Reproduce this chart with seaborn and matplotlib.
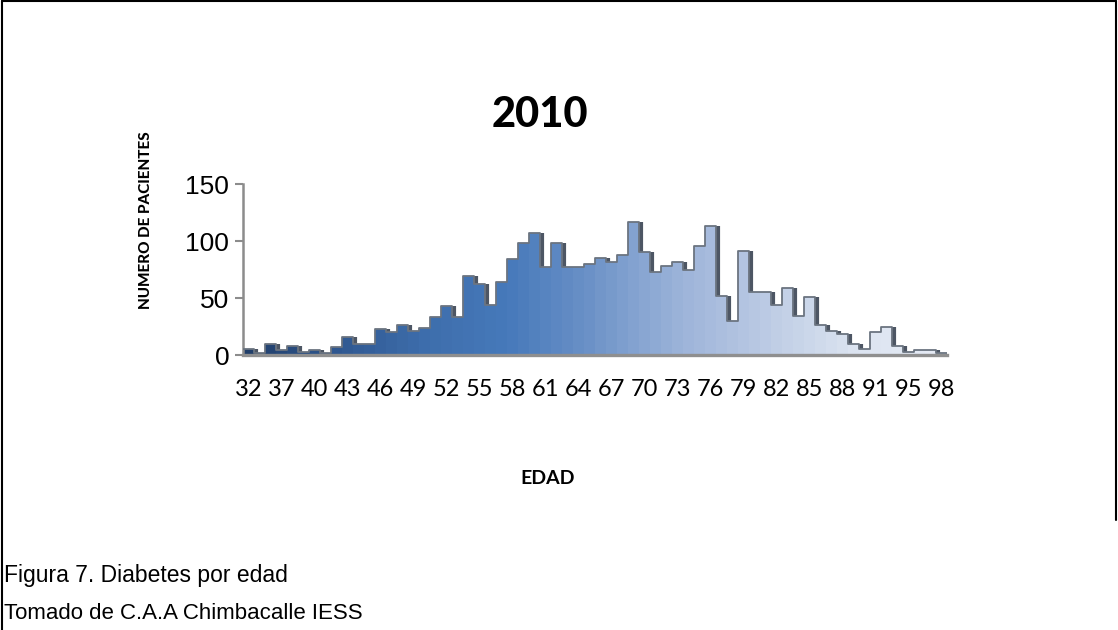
import matplotlib
matplotlib.use("Agg")
import matplotlib.pyplot as plt
from matplotlib.colors import LinearSegmentedColormap
from matplotlib.lines import Line2D
import matplotlib.transforms as mtransforms
import numpy as np
import pandas as pd
import seaborn as sns

# Patients per age, 2010
ages = [32, 34, 35, 37, 38, 39, 40, 41, 42, 43, 44, 45, 46, 47, 48, 49,
        50, 51, 52, 53, 54, 55, 56, 57, 58, 59, 60, 61, 62, 63, 64, 65,
        66, 67, 68, 69, 70, 71, 72, 73, 74, 75, 76, 77, 78, 79, 80, 81,
        82, 83, 84, 85, 86, 87, 88, 89, 90, 91, 92, 93, 95, 96, 97, 98]
patients = [5, 2, 10, 4, 8, 3, 4, 2, 7, 16, 10, 10, 23, 20, 26, 21,
            24, 33, 43, 33, 69, 62, 44, 64, 84, 98, 107, 77, 98, 77, 77, 80,
            85, 82, 88, 117, 90, 73, 78, 82, 75, 96, 113, 52, 30, 91, 55, 55,
            44, 59, 34, 51, 26, 21, 18, 10, 5, 20, 25, 8, 3, 4, 4, 2]
y_ticks = [0, 50, 100, 150]

title = "2010"
x_label = "EDAD"
y_label = "NUMERO DE PACIENTES"
caption_1 = "Figura 7. Diabetes por edad"
caption_2 = "Tomado de C.A.A Chimbacalle IESS"

df = pd.DataFrame({"edad": [str(a) for a in ages], "pacientes": patients})

sns.set_theme(style="white")
plt.rcParams["font.family"] = ["Lato", "DejaVu Sans"]
plt.rcParams["text.color"] = "black"
plt.rcParams["xtick.labelcolor"] = "black"
plt.rcParams["ytick.labelcolor"] = "black"

fig = plt.figure(figsize=(11.18, 6.3), dpi=100)
ax = fig.add_axes([0.2174, 0.4365, 0.6297, 0.2714])

# left-to-right fill gradient: navy -> blue -> pale blue
grad = LinearSegmentedColormap.from_list(
    "fill", ["#203e69", "#2f5790", "#3d6dab", "#4679ba", "#6e93c8",
             "#9cb3d9", "#bccbe4", "#dbe3f0", "#e6ebf5"])
palette = [grad(v) for v in np.linspace(0, 1, len(ages))]

sns.barplot(data=df, x="edad", y="pacientes", hue="edad", palette=palette,
            width=1.0, linewidth=0, legend=False, ax=ax, saturation=1)

pos = np.arange(len(ages))
vals = np.asarray(patients)

# dark depth edge on every downward step, shifted a little to the right
shadow = mtransforms.offset_copy(ax.transData, fig=fig, x=2.0, y=0, units="dots")
nxt = np.append(vals[1:], 0)
drops = nxt < vals
ax.vlines(pos[drops] + 0.5, nxt[drops], vals[drops], colors="#4d5664",
          lw=3.0, transform=shadow, zorder=3)

# thin stepped outline along the tops
xs = np.concatenate([[pos[0] - 0.5], pos, [pos[-1] + 0.5]])
ys = np.concatenate([[vals[0]], vals, [vals[-1]]])
ax.step(xs, ys, where="mid", color="#6b7480", lw=1.3, zorder=4)

ax.set_xlim(-0.5, len(ages) - 0.5)
ax.set_ylim(0, 150)
ax.set_yticks(y_ticks)
ax.set_yticklabels([str(t) for t in y_ticks],
                   fontdict={"family": ["Liberation Sans", "DejaVu Sans"], "size": 19})
ax.set_xticks(pos[::3])
ax.set_xticklabels([str(a) for a in ages[::3]],
                   fontdict={"family": ["Lato", "DejaVu Sans"], "size": 17})
ax.tick_params(axis="x", length=0, pad=17)
ax.tick_params(axis="y", length=6, width=1.5, color="#8c8c8c", pad=4, left=True)

for side in ("top", "right"):
    ax.spines[side].set_visible(False)
ax.spines["left"].set_color("#8c8c8c")
ax.spines["left"].set_linewidth(1.8)
ax.spines["bottom"].set_color("#8f8f8f")
ax.spines["bottom"].set_linewidth(2.4)
ax.set_xlabel("")
ax.set_ylabel("")

fig.text(0.483, 0.818, title, ha="center", va="center", fontsize=30, fontweight="black")
fig.text(0.131, 0.651, y_label, ha="center", va="center", rotation=90,
         fontsize=11, fontweight="black")
fig.text(0.49, 0.241, x_label, ha="center", va="center", fontsize=14, fontweight="bold")
fig.text(0.004, 0.087, caption_1, ha="left", va="center", fontsize=16.5,
         family=["Liberation Sans", "DejaVu Sans"])
fig.text(0.004, 0.026, caption_2, ha="left", va="center", fontsize=16,
         family=["Liberation Sans", "DejaVu Sans"])

# page frame
for coords in (([0.0015, 0.0015], [0, 0.998]), ([0.0015, 0.9985], [0.998, 0.998]),
               ([0.9985, 0.9985], [0.175, 0.998])):
    fig.add_artist(Line2D(coords[0], coords[1], color="black", lw=1.5))

fig.savefig("out.png", dpi=100)
